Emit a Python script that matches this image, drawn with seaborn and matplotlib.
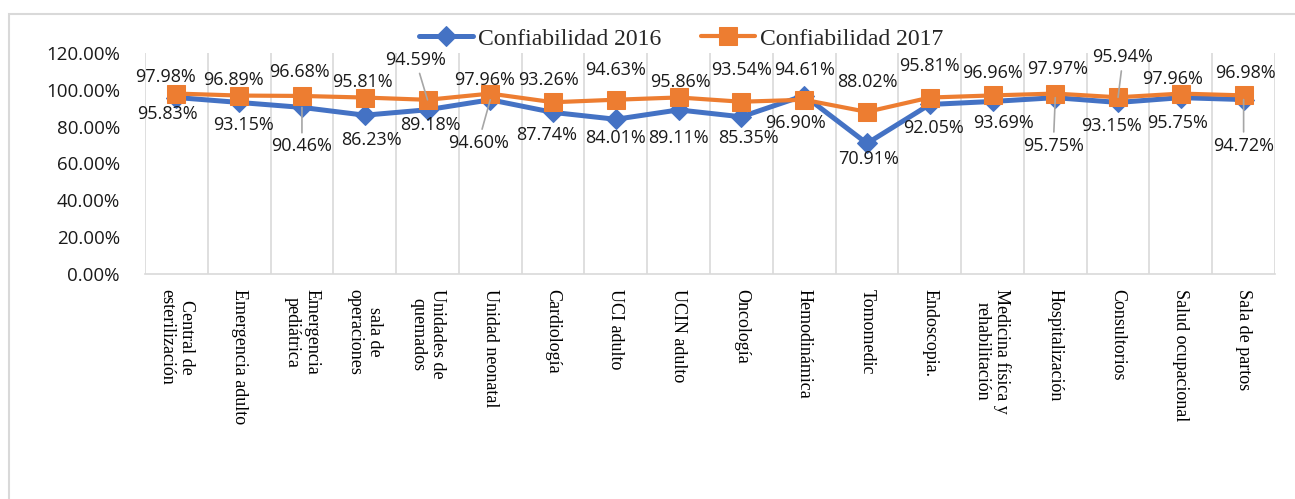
import numpy as np
import pandas as pd
import matplotlib
matplotlib.use("Agg")
import matplotlib.pyplot as plt
from matplotlib.patches import Rectangle
from matplotlib.ticker import FuncFormatter
import seaborn as sns

# ---- data -------------------------------------------------------------
areas = [
    "Central de\nesterilización", "Emergencia adulto", "Emergencia\npediátrica",
    "sala de\noperaciones", "Unidades de\nquemados", "Unidad neonatal",
    "Cardiología", "UCI adulto", "UCIN adulto", "Oncología", "Hemodinámica",
    "Tomomedic", "Endoscopia.", "Medicina física y\nrehabilitación",
    "Hospitalización", "Consultorios", "Salud ocupacional", "Sala de partos",
]
conf_2016 = [95.83, 93.15, 90.46, 86.23, 89.18, 94.60, 87.74, 84.01, 89.11,
             85.35, 96.90, 70.91, 92.05, 93.69, 95.75, 93.15, 95.75, 94.72]
conf_2017 = [97.98, 96.89, 96.68, 95.81, 94.59, 97.96, 93.26, 94.63, 95.86,
             93.54, 94.61, 88.02, 95.81, 96.96, 97.97, 95.94, 97.96, 96.98]
y_ticks = [0, 20, 40, 60, 80, 100, 120]
series_names = ["Confiabilidad 2016", "Confiabilidad 2017"]

# data-label placement (pixel offsets from each point, x right / y down)
off_2016 = [(-9, 16), (4, 23), (0, 39), (7, 25), (3, 15), (-12, 43), (-6, 23),
            (0, 19), (0, 28), (7, 21), (-9, 27), (2, 16), (4, 24), (11, 22),
            (-2, 48), (-7, 24), (-3, 25), (0, 46)]
off_2017 = [(-11, -17), (-6, -16), (-3, -24), (-2, -16), (-12, -40), (-6, -14),
            (-5, -22), (0, -30), (2, -15), (0, -32), (0, -30), (0, -30),
            (0, -32), (0, -22), (2, -25), (5, -40), (-8, -15), (2, -22)]
leader_2016 = {2, 5, 14, 17}
leader_2017 = {4, 15}

BLUE = "#4472C4"
ORANGE = "#ED7D31"
GRID = "#D9D9D9"
LABEL_FONT = "Open Sans"
SERIF = "Liberation Serif"

sns.set_theme(style="white")
plt.rcParams["font.family"] = [LABEL_FONT, "DejaVu Sans"]

W, H = 1295, 499
fig = plt.figure(figsize=(W / 100, H / 100), dpi=100)
ax = fig.add_axes([145 / W, 1 - 274 / H, 1130 / W, 221 / H])

# outer chart frame
fig.add_artist(Rectangle((9 / W, -0.2), 1.2, 1.2 - 14 / H,
                         transform=fig.transFigure, fill=False,
                         edgecolor=GRID, linewidth=1.5))

df = pd.DataFrame({"area": areas, "c2016": conf_2016, "c2017": conf_2017})

sns.lineplot(data=df, x="area", y="c2016", ax=ax, sort=False, color=BLUE,
             linewidth=3.6, marker="D", markersize=10, markeredgecolor=BLUE,
             label=series_names[0], zorder=3)
sns.lineplot(data=df, x="area", y="c2017", ax=ax, sort=False, color=ORANGE,
             linewidth=3.0, marker="s", markersize=13, markeredgecolor=ORANGE,
             label=series_names[1], zorder=4)

n = len(areas)
ax.set_xlim(-0.5, n - 0.5)
ax.set_ylim(y_ticks[0], y_ticks[-1])

# axes styling
for s in ["top", "right", "left"]:
    ax.spines[s].set_visible(False)
ax.spines["bottom"].set_color(GRID)
ax.spines["bottom"].set_linewidth(1.2)

ax.set_yticks(y_ticks)
ax.yaxis.set_major_formatter(FuncFormatter(lambda v, _: f"{v:.2f}%"))
ax.tick_params(axis="y", length=0, pad=18, labelsize=13.5, labelcolor="#1a1a1a")

ax.set_xticks(range(n))
ax.set_xticklabels(areas, rotation=-90, ha="center", va="top",
                   multialignment="center", fontfamily=SERIF, fontsize=13,
                   color="black")
ax.tick_params(axis="x", which="major", length=0, pad=11)
ax.set_xticks(np.arange(-0.5, n, 1.0), minor=True)
ax.tick_params(axis="x", which="minor", length=3, color=GRID, width=1.2)
ax.grid(False)
ax.grid(True, axis="x", which="minor", color=GRID, linewidth=1.2)
ax.set_xlabel("")
ax.set_ylabel("")

# data labels
def add_labels(values, offsets, leaders):
    for i, (v, (dx, dy)) in enumerate(zip(values, offsets)):
        kw = {}
        if i in leaders:
            kw["arrowprops"] = dict(arrowstyle="-", color="#A6A6A6", lw=1.2,
                                    shrinkA=1, shrinkB=0)
        ax.annotate(f"{v:.2f}%", xy=(i, v), xytext=(dx, -dy),
                    textcoords="offset pixels", ha="center", va="center",
                    fontsize=13, color="#1a1a1a", zorder=6, **kw)

add_labels(conf_2016, off_2016, leader_2016)
add_labels(conf_2017, off_2017, leader_2017)

ax.legend(loc="center", bbox_to_anchor=(681 / W, 1 - 39 / H),
          bbox_transform=fig.transFigure, ncol=2, frameon=False,
          prop={"family": SERIF, "size": 17}, handlelength=2.3,
          handletextpad=0.2, columnspacing=1.7, borderaxespad=0)

fig.savefig("out.png", dpi=100)
